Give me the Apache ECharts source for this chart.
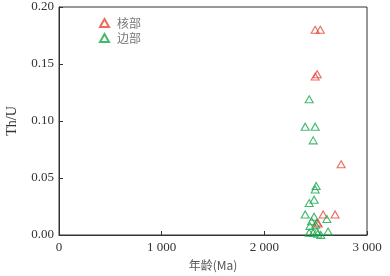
<!DOCTYPE html>
<html><head><meta charset="utf-8">
<script src="https://cdn.jsdelivr.net/npm/echarts@6/dist/echarts.min.js"></script>
<style>html,body{margin:0;padding:0;background:#fff}#c{width:390px;height:276px}</style>
</head><body><div id="c"></div>
<script>
const coreAge = [2495, 2545, 2495, 2515, 2748, 2573, 2689, 2512, 2525];
const coreThU = [0.180, 0.180, 0.139, 0.141, 0.062, 0.018, 0.018, 0.011, 0.010];
const rimAge = [2437, 2398, 2495, 2476, 2495, 2505, 2437, 2485, 2398, 2485, 2609, 2444, 2500, 2460, 2621, 2437, 2475, 2512, 2550, 2520];
const rimThU = [0.119, 0.095, 0.095, 0.083, 0.040, 0.043, 0.028, 0.031, 0.018, 0.016, 0.014, 0.008, 0.009, 0.012, 0.003, 0.002, 0.002, 0.003, 0.000, 0.001];
const xTicks = ['0', '1 000', '2 000', '3 000'];
const seriesNames = ['核部', '边部'];

const serif = '"Liberation Serif", "DejaVu Serif", serif';
const red = '#e4473a', green = '#15a84a';
const zip = (a, b) => a.map((v, i) => [v, b[i]]);

const chart = echarts.init(document.getElementById('c'), null, {renderer: 'canvas'});
chart.setOption({
  animation: false,
  grid: {left: 59, right: 23, top: 7, bottom: 41, show: true, borderColor: '#333', borderWidth: 1,
         containLabel: false, outerBoundsMode: 'none'},
  legend: {
    orient: 'vertical', left: 94, top: 12, itemGap: 3, itemWidth: 9, itemHeight: 8,
    textStyle: {fontFamily: '"Noto Sans CJK SC"', fontSize: 12, color: '#777', padding: [0, 0, 0, 3]},
    data: seriesNames
  },
  xAxis: {
    type: 'value', min: 0, max: 3000, interval: 1000,
    name: '年龄(Ma)', nameLocation: 'middle', nameGap: 24,
    nameTextStyle: {fontFamily: '"Noto Sans CJK SC", ' + serif, fontSize: 12, color: '#555'},
    axisLine: {lineStyle: {color: '#333'}},
    axisTick: {inside: true, length: 4, lineStyle: {color: '#333'}},
    splitLine: {show: false},
    axisLabel: {fontFamily: serif, fontSize: 13, color: '#333', margin: 6,
      formatter: v => xTicks[Math.round(v / 1000)]}
  },
  yAxis: {
    type: 'value', min: 0, max: 0.2, interval: 0.05,
    name: 'Th/U', nameLocation: 'middle', nameGap: 40,
    nameTextStyle: {fontFamily: serif, fontSize: 14, color: '#333'},
    axisLine: {show: true, lineStyle: {color: '#333'}},
    axisTick: {show: true, inside: true, length: 4, lineStyle: {color: '#333'}},
    splitLine: {show: false},
    axisLabel: {fontFamily: serif, fontSize: 13, color: '#333', margin: 5,
      formatter: v => v.toFixed(2)}
  },
  series: [
    {name: seriesNames[0], type: 'scatter', symbol: 'triangle', symbolSize: [8, 7],
     itemStyle: {color: 'rgba(255,255,255,0)', borderColor: red, borderWidth: 1.1},
     data: zip(coreAge, coreThU)},
    {name: seriesNames[1], type: 'scatter', symbol: 'triangle', symbolSize: [8, 7],
     itemStyle: {color: 'rgba(255,255,255,0)', borderColor: green, borderWidth: 1.1},
     data: zip(rimAge, rimThU)}
  ]
});
</script></body></html>
